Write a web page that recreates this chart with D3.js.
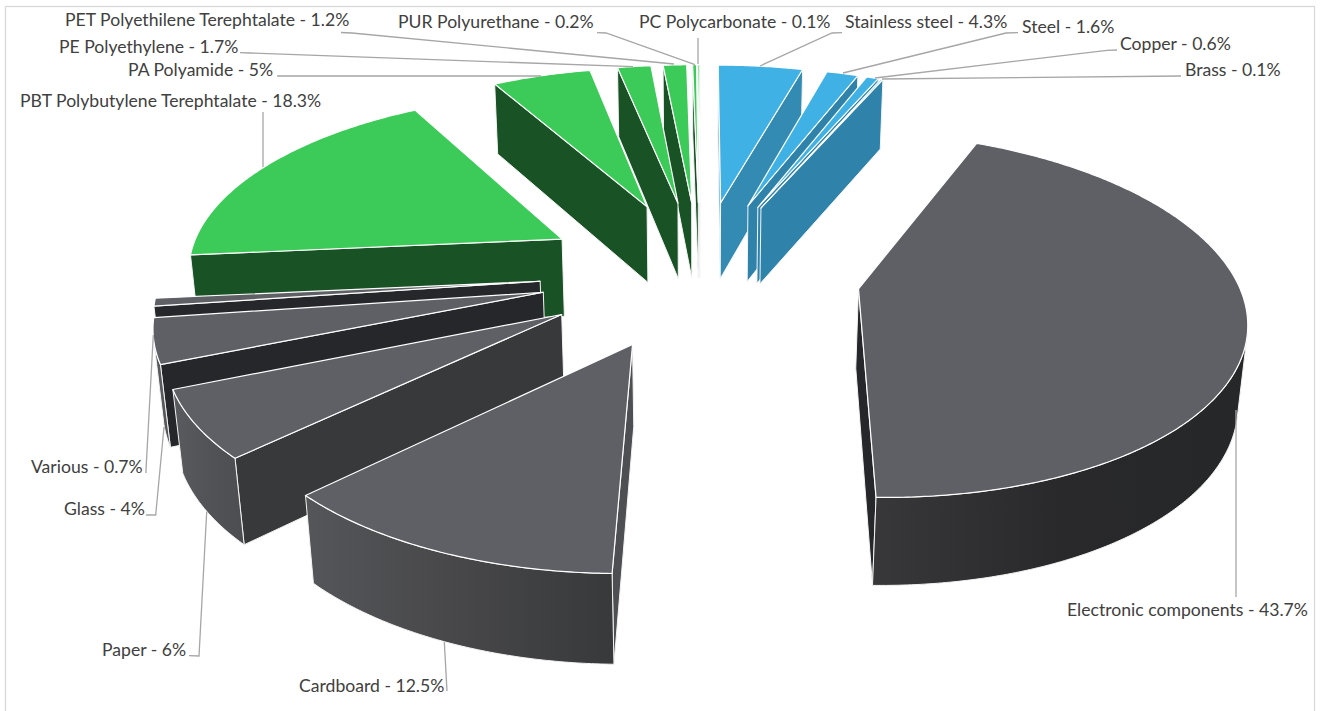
<!DOCTYPE html>
<html lang="en">
<head>
    <meta charset="UTF-8">
    <title>Materials 3D pie</title>
    <script src="https://d3js.org/d3.v7.min.js"></script>
    <style>
        html, body { margin: 0; background: #fff; }
        svg { display: block; }
        .label { font-family: Lato, sans-serif; font-size: 17.6px; fill: #404040; }
        .leader { fill: none; stroke: #a6a6a6; stroke-width: 1.3; }
        .face { stroke: #f4f4f4; stroke-width: 1; stroke-linejoin: round; }
        .top { stroke: #fff; stroke-width: 1.2; }
    </style>
</head>
<body>
<svg id="chart" width="1322" height="711"></svg>
<script>
    // data, clockwise from 12 o'clock
    var categories = ["Stainless steel", "Steel", "Copper", "Brass", "Electronic components", "Cardboard", "Paper", "Glass", "Various",
        "PBT Polybutylene Terephtalate", "PA Polyamide", "PE Polyethylene", "PET Polyethilene Terephtalate", "PUR Polyurethane", "PC Polycarbonate"];
    var values = [4.3, 1.6, 0.6, 0.1, 43.7, 12.5, 6, 4, 0.7, 18.3, 5, 1.7, 1.2, 0.2, 0.1];
    var families = ["metal", "metal", "metal", "metal", "other", "other", "other", "other", "other",
        "plastic", "plastic", "plastic", "plastic", "plastic", "plastic"];

    // colours per family: top face, side wall
    var topColor = { metal: "#3fb1e5", other: "#5f6065", plastic: "#3ccb58" };
    var wallColor = { metal: "#2f83ab", other: "#38393b", plastic: "#195225" };
    // walls that are shaded differently from the family default
    var wallOverride = { "Stainless steel": "#338bb3", "Electronic components": "#26272a", "Cardboard": "#4e4f53", "Glass": "#26272b", "Various": "#26272b" };
    // round wall gradient, left to right
    var rimColor = {
        "Electronic components": ["#38383a", "#29292b", "#262729"],
        "Cardboard": ["#55565a", "#474749", "#38393b"],
        "Paper": ["#5a5b5f", "#525357", "#4c4d51"],
        "Glass": ["#5a5b5f", "#58595d", "#505155"],
        "Various": ["#5c5d61", "#5a5b5f", "#55565a"],
        "PBT Polybutylene Terephtalate": ["#1d5c2a", "#195225", "#195225"]
    };

    // label text position and leader line, placed by hand
    var labelPos = {
        "PET Polyethilene Terephtalate": [65, 26], "PE Polyethylene": [59, 53], "PA Polyamide": [128, 76],
        "PBT Polybutylene Terephtalate": [20, 107], "PUR Polyurethane": [398, 28], "PC Polycarbonate": [639, 28],
        "Stainless steel": [845, 28], "Steel": [1022, 33], "Copper": [1120, 50], "Brass": [1185, 76],
        "Various": [31, 473], "Glass": [64, 515], "Paper": [102, 656], "Cardboard": [299, 692], "Electronic components": [1067, 616]
    };
    var leaderPath = {
        "PET Polyethilene Terephtalate": [[341, 32.5], [352, 33], [674, 64]],
        "PE Polyethylene": [[240, 52.7], [250, 53], [633, 66.7]],
        "PA Polyamide": [[277, 76], [541, 76]],
        "PBT Polybutylene Terephtalate": [[263, 112], [263, 167]],
        "PUR Polyurethane": [[597, 32.7], [606, 33], [695, 64.7]],
        "PC Polycarbonate": [[698, 38], [698, 64]],
        "Stainless steel": [[842, 32.7], [832, 33], [760, 66]],
        "Steel": [[1018, 32.7], [1006, 33], [843, 73]],
        "Copper": [[1117, 50], [1107, 50.3], [875, 78]],
        "Brass": [[1181, 76], [882, 79]],
        "Various": [[146, 473], [146, 470], [153.3, 335]],
        "Glass": [[146, 515], [155.7, 515], [164, 427]],
        "Paper": [[189, 655.7], [199, 656], [206.7, 511.7]],
        "Cardboard": [[447, 691], [444.3, 641.7]],
        "Electronic components": [[1236, 597], [1236, 410]]
    };

    // camera, fitted against the picture
    var cam = { cx: 700.21, cy: 272.58, f: 2403.26, dist: 6.3793, tilt: 0.4826 };
    var explode = 0.4248;
    var thick = 0.24;
    var cosT = Math.cos(cam.tilt), sinT = Math.sin(cam.tilt);

    var svg = d3.select("#chart");
    var defs = svg.append("defs");

    svg.append("rect")
        .attr("x", 5.5).attr("y", 6.5)
        .attr("width", 1309).attr("height", 730)
        .attr("fill", "none").attr("stroke", "#d9d9d9").attr("stroke-width", 1.3);

    // ground point (X right, Z to the viewer), h below the top face
    function project(X, Z, h) {
        var depth = cam.dist - Z * cosT + h * sinT;
        return [cam.cx + cam.f * X / depth, cam.cy + cam.f * (h * cosT + Z * sinT) / depth];
    }

    var line = d3.line();
    var pie = d3.pie().sort(null).value(function (d) { return d; });

    var slices = pie(values).map(function (d, i) {
        var mid = (d.startAngle + d.endAngle) / 2;
        var tip = [explode * Math.sin(mid), -explode * Math.cos(mid)];
        return { name: categories[i], family: families[i], value: values[i], start: d.startAngle, end: d.endAngle, tip: tip };
    });
    // paint from the far end to the near end
    slices.sort(function (a, b) { return a.tip[1] - b.tip[1]; });

    function rimPoint(s, a) {
        return [s.tip[0] + Math.sin(a), s.tip[1] - Math.cos(a)];
    }
    function faceUp(p, h) { return project(p[0], p[1], h); }

    // true if the camera is on the side the normal points to
    function facing(p, angle) {
        var cz = cam.dist * cosT;
        return (0 - p[0]) * Math.sin(angle) + (cz - p[1]) * -Math.cos(angle) > 0;
    }

    function arcAngles(s) {
        var n = Math.max(2, Math.ceil((s.end - s.start) / 0.01));
        return d3.range(n + 1).map(function (i) { return s.start + (s.end - s.start) * i / n; });
    }

    var groups = svg.selectAll("g.slice")
        .data(slices)
        .join("g")
        .attr("class", "slice");

    groups.each(function (s, i) {
        var g = d3.select(this);
        var wall = wallOverride[s.name] || wallColor[s.family];

        // the two flat cut walls
        [[s.start, s.start - Math.PI / 2], [s.end, s.end + Math.PI / 2]].forEach(function (w) {
            if (!facing(s.tip, w[1])) return;
            var o = rimPoint(s, w[0]);
            g.append("path")
                .attr("class", "face")
                .attr("fill", wall)
                .attr("d", line([faceUp(s.tip, 0), faceUp(o, 0), faceUp(o, thick), faceUp(s.tip, thick)]) + "Z");
        });

        // round wall, only the part turned to the camera
        var visible = arcAngles(s).filter(function (a) { return facing(rimPoint(s, a), a); });
        if (visible.length > 1) {
            var topEdge = visible.map(function (a) { return faceUp(rimPoint(s, a), 0); });
            var lowEdge = visible.map(function (a) { return faceUp(rimPoint(s, a), thick); }).reverse();
            var fill = wall;
            if (rimColor[s.name]) {
                var xs = d3.extent(topEdge.concat(lowEdge), function (p) { return p[0]; });
                var id = "rim" + i;
                var grad = defs.append("linearGradient").attr("id", id)
                    .attr("gradientUnits", "userSpaceOnUse")
                    .attr("x1", xs[0]).attr("x2", xs[1]).attr("y1", 0).attr("y2", 0);
                grad.selectAll("stop").data(rimColor[s.name]).join("stop")
                    .attr("offset", function (d, k) { return k / 2; })
                    .attr("stop-color", function (d) { return d; });
                fill = "url(#" + id + ")";
            }
            g.append("path")
                .attr("class", "face")
                .attr("fill", fill)
                .attr("d", line(topEdge.concat(lowEdge)) + "Z");
        }

        // top face
        var outline = [faceUp(s.tip, 0)].concat(arcAngles(s).map(function (a) { return faceUp(rimPoint(s, a), 0); }));
        g.append("path")
            .attr("class", "face top")
            .attr("fill", topColor[s.family])
            .attr("stroke-width", s.value < 0.5 ? 0.7 : null)
            .attr("d", line(outline) + "Z");
    });

    // leader lines
    svg.selectAll("path.leader")
        .data(categories)
        .join("path")
        .attr("class", "leader")
        .attr("d", function (d) { return line(leaderPath[d]); });

    // labels
    svg.selectAll("text.label")
        .data(categories)
        .join("text")
        .attr("class", "label")
        .attr("x", function (d) { return labelPos[d][0]; })
        .attr("y", function (d) { return labelPos[d][1]; })
        .text(function (d, i) { return d + " - " + values[i] + "%"; });
</script>
</body>
</html>
